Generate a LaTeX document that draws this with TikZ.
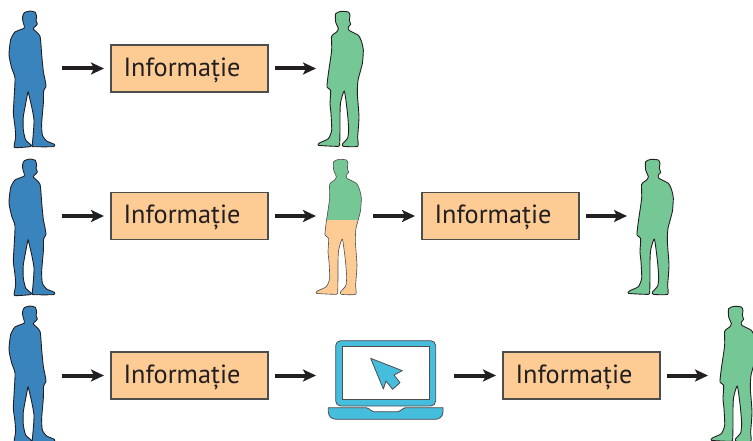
\documentclass[tikz,border=0pt]{standalone}
\usepackage{fontspec}
\setmainfont{PT Sans}
\usetikzlibrary{arrows.meta}

\definecolor{manblue}{HTML}{3A84BE}
\definecolor{mangreen}{HTML}{76C796}
\definecolor{boxorange}{HTML}{FDCB94}
\definecolor{laptopcyan}{HTML}{45BDDD}
\definecolor{inkdark}{HTML}{231F20}
\definecolor{boxline}{HTML}{4D4D4D}

\newcommand{\blueoutline}{plot[smooth cycle,tension=.35] coordinates {
  (68,49) (73,38) (90,33) (106,37) (110,52) (108,60) (112,72) (106,79)
  (100,87) (120,109) (125,164) (130,214) (135,239) (138,260) (131,272)
  (130,310) (125,370) (127,405) (140,423) (163,433) (160,440) (100,440)
  (97,435) (100,400) (102,360) (95,320) (85,278) (83,280) (70,350)
  (70,390) (77,420) (93,435) (90,440) (45,443) (43,435) (47,410) (45,380)
  (40,340) (42,300) (45,234) (35,204) (27,164) (32,119) (45,96) (73,84)
  (70,69) (68,60)}}
\newcommand{\greenoutline}{plot[smooth cycle,tension=.35] coordinates {
  (77,35) (93,28) (115,30) (120,40) (118,55) (122,67) (115,75) (117,85)
  (145,100) (155,120) (160,145) (157,185) (145,230) (143,245) (142,275)
  (147,345) (143,405) (143,433) (100,433) (98,425) (113,408) (116,380)
  (112,330) (103,267) (92,300) (90,335) (90,385) (89,425) (85,433)
  (25,430) (30,422) (55,410) (65,385) (63,335) (60,305) (62,265) (51,255)
  (55,215) (65,145) (65,103) (80,90) (85,80) (77,60)}}

\tikzset{
  blueman/.pic={\draw[manline,fill=manblue] \blueoutline;},
  greenman/.pic={\draw[manline,fill=mangreen] \greenoutline;},
  halfman/.pic={
    \fill[boxorange] \greenoutline;
    \begin{scope}
      \clip (0,0) rectangle (240,208);
      \fill[mangreen] \greenoutline;
    \end{scope}
    \draw[manline,draw=boxline,line width=.6pt] \greenoutline;
  },
  laptop/.pic={
    \draw[laptopline,rounded corners=5pt] (47,228) -- (47,32) -- (347,32) -- (347,228) -- cycle;
    \draw[inkdark!80,fill=white,line width=.7pt] (67,50) rectangle (328,207);
    \draw[laptopline] (25,233) [rounded corners=2pt] -- (145,233) -- (155,245) -- (240,245)
      -- (250,233) [sharp corners] -- (369,233) -- (369,245)
      .. controls (369,260) and (358,268) .. (345,268) -- (50,268)
      .. controls (36,268) and (25,260) .. (25,245) -- cycle;
    \draw[laptopline,line join=round] (152,85) -- (247,122) -- (222,135) -- (240,158)
      -- (218,178) -- (198,153) -- (190,177) -- cycle;
  }
}

\begin{document}
\begin{tikzpicture}
  [x=1pt,y=-1pt,>={Stealth[length=13pt,width=12pt,inset=3pt]},
   manline/.style={draw=inkdark,line width=.9pt,line join=round},
   laptopline/.style={draw=inkdark!80,fill=laptopcyan,line width=.8pt},
   infobox/.style={draw=boxline,fill=boxorange,line width=1.1pt,inner xsep=12.5pt,inner ysep=0pt,
     outer sep=0pt,text width=132pt,minimum height=47pt,align=left,text height=18.5pt,text depth=3.1pt,
     text=inkdark,font=\fontsize{26.3}{30}\selectfont},
   slot/.style={minimum width=43pt,minimum height=20pt,inner sep=0pt,outer sep=0pt}]

  \useasboundingbox (0,0) rectangle (753,441);
  \clip (0,0) rectangle (753,441);

  \pic[scale=1/3] at (0,0)     {blueman};
  \pic[scale=1/3] at (0,148)   {blueman};
  \pic[scale=1/3] at (0,295)   {blueman};
  \pic[scale=1/3] at (310,2)   {greenman};
  \pic[scale=1/3] at (308,150) {halfman};
  \pic[scale=1/3] at (620,150) {greenman};
  \pic[scale=1/3] at (703,297) {greenman};
  \pic[scale=1/3] at (320,330) {laptop};

  \node[slot]    (sender1)  at (33.5,68.5)  {};
  \node[infobox] (info1)    at (189.5,68.5) {Informație};
  \node[slot]    (reader1)  at (344.5,68.5) {};

  \node[slot]    (sender2)  at (33.5,216)  {};
  \node[infobox] (info2)    at (189.5,216) {Informație};
  \node[slot]    (middle2)  at (344.5,216) {};
  \node[infobox] (info2b)   at (500.5,216) {Informație};
  \node[slot]    (reader2)  at (655.5,216) {};

  \node[slot]    (sender3)  at (33.5,375.5)  {};
  \node[infobox] (info3)    at (189.5,375.5) {Informație};
  \node[slot,minimum width=124pt] (computer3) at (385,375.5) {};
  \node[infobox] (info3b)   at (581.5,375.5) {Informație};
  \node[slot]    (reader3)  at (736.5,375.5) {};

  \path[->, draw=inkdark, line width=4pt, shorten > = 7pt, shorten < = 7pt]
        (sender1)   edge (info1)
        (info1)     edge (reader1)
        (sender2)   edge (info2)
        (info2)     edge (middle2)
        (middle2)   edge (info2b)
        (info2b)    edge (reader2)
        (sender3)   edge (info3)
        (info3)     edge (computer3)
        (computer3) edge (info3b)
        (info3b)    edge (reader3);
\end{tikzpicture}
\end{document}
